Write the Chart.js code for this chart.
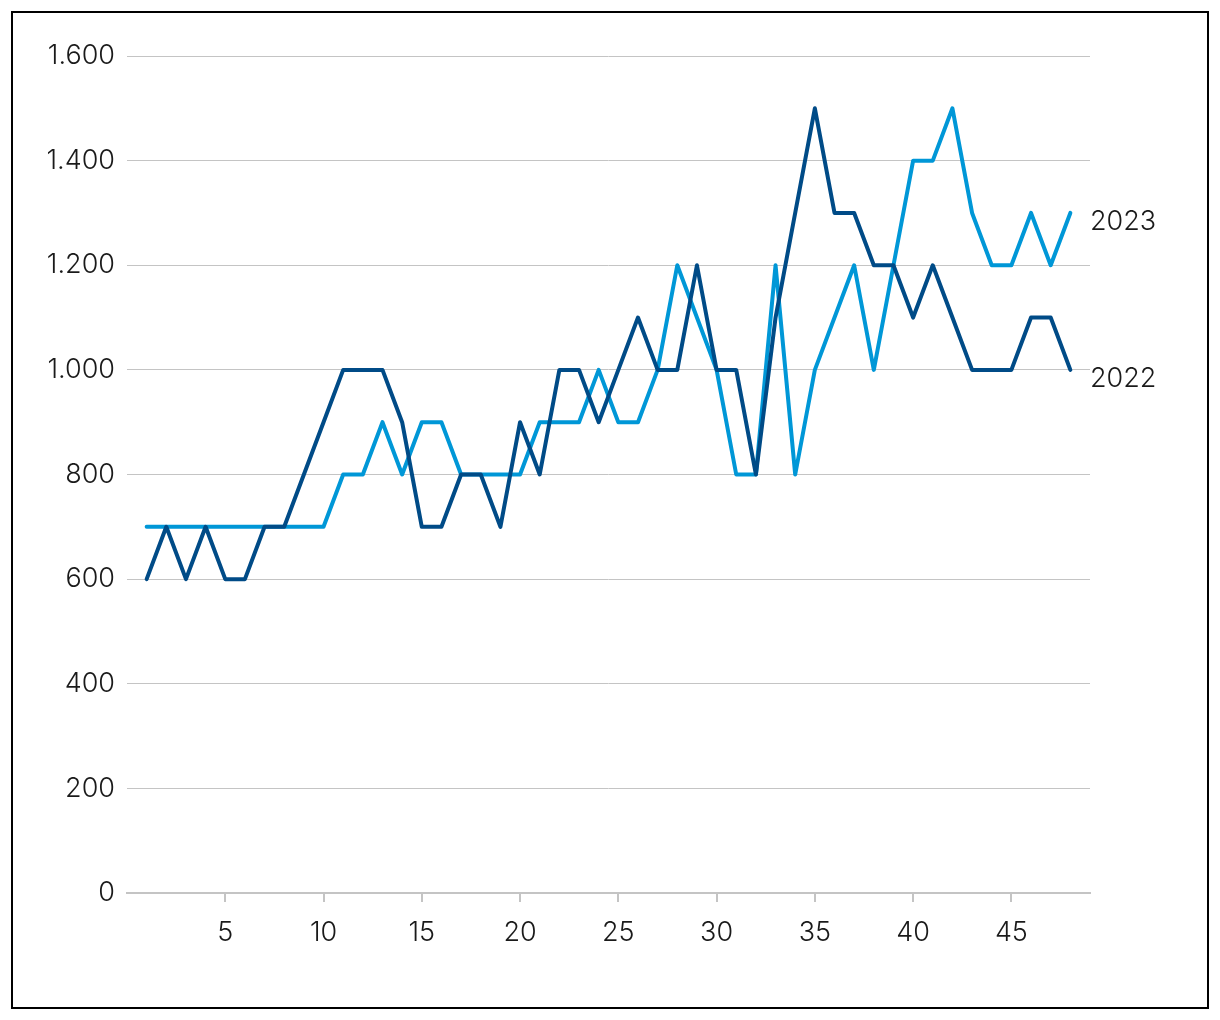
<!DOCTYPE html>
<html>
<head>
<meta charset="utf-8">
<script src="https://cdn.jsdelivr.net/npm/chart.js@4.4.1/dist/chart.umd.min.js"></script>
<style>
    html, body { margin: 0; padding: 0; background: #fff; }
    #frame {
        position: absolute; left: 11px; top: 11px;
        width: 1198px; height: 998px;
        border: 2px solid #000; box-sizing: border-box;
    }
    #chart { display: block; }
</style>
</head>
<body>
<div id="frame"><canvas id="chart" width="1194" height="994"></canvas></div>
<script>
// week numbers
const weeks = Array.from({ length: 48 }, (_, i) => i + 1);

const values2022 = [
    600, 700, 600, 700, 600, 600, 700, 700, 800, 900,
    1000, 1000, 1000, 900, 700, 700, 800, 800, 700, 900,
    800, 1000, 1000, 900, 1000, 1100, 1000, 1000, 1200, 1000,
    1000, 800, 1100, 1300, 1500, 1300, 1300, 1200, 1200, 1100,
    1200, 1100, 1000, 1000, 1000, 1100, 1100, 1000
];

const values2023 = [
    700, 700, 700, 700, 700, 700, 700, 700, 700, 700,
    800, 800, 900, 800, 900, 900, 800, 800, 800, 800,
    900, 900, 900, 1000, 900, 900, 1000, 1200, 1100, 1000,
    800, 800, 1200, 800, 1000, 1100, 1200, 1000, 1200, 1400,
    1400, 1500, 1300, 1200, 1200, 1300, 1200, 1300
];

const seriesNames = ['2022', '2023'];
const xTicks = [5, 10, 15, 20, 25, 30, 35, 40, 45];
const yTicks = [0, 200, 400, 600, 800, 1000, 1200, 1400, 1600];

const FONT = 'Inter, "Open Sans", sans-serif';
const TEXT = '#1a1a1a';
const GRID = '#c4c4c4';

const toPoints = (vals) => vals.map((v, i) => ({ x: weeks[i], y: v }));

// label at the end of each line
const endLabels = {
    id: 'endLabels',
    afterDatasetsDraw(chart) {
        const ctx = chart.ctx;
        ctx.save();
        ctx.font = '300 27px ' + FONT;
        ctx.fillStyle = TEXT;
        ctx.textAlign = 'left';
        ctx.textBaseline = 'middle';
        chart.data.datasets.forEach((ds, i) => {
            const meta = chart.getDatasetMeta(i);
            const last = meta.data[meta.data.length - 1];
            ctx.fillText(ds.label, chart.chartArea.right + 0, last.y + 9);
        });
        ctx.restore();
    }
};

const lineStyle = {
    borderWidth: 4,
    pointRadius: 0,
    tension: 0,
    borderJoinStyle: 'round',
    borderCapStyle: 'round'
};

new Chart(document.getElementById('chart'), {
    type: 'line',
    data: {
        datasets: [
            { label: seriesNames[0], data: toPoints(values2022), borderColor: '#004b87', ...lineStyle },
            { label: seriesNames[1], data: toPoints(values2023), borderColor: '#0097d7', ...lineStyle }
        ]
    },
    options: {
        responsive: false,
        animation: false,
        layout: { padding: { top: 43, right: 117, bottom: 0, left: 0 } },
        plugins: {
            legend: { display: false },
            tooltip: { enabled: false }
        },
        scales: {
            x: {
                type: 'linear',
                min: 0,
                max: 49,
                afterBuildTicks: (scale) => { scale.ticks = xTicks.map(v => ({ value: v })); },
                afterFit: (scale) => { scale.height = 114; },
                grid: {
                    drawOnChartArea: false,
                    drawTicks: true,
                    tickLength: 9,
                    color: GRID,
                    lineWidth: 2
                },
                border: { display: true, color: GRID, width: 2 },
                ticks: {
                    color: TEXT,
                    padding: 15,
                    maxRotation: 0,
                    font: { family: FONT, size: 27, weight: 300 }
                }
            },
            y: {
                min: 0,
                max: 1600,
                afterBuildTicks: (scale) => { scale.ticks = yTicks.map(v => ({ value: v })); },
                afterFit: (scale) => { scale.width = 114; },
                grid: {
                    drawTicks: false,
                    color: GRID,
                    lineWidth: 1
                },
                border: { display: false },
                ticks: {
                    color: TEXT,
                    padding: 12,
                    font: { family: FONT, size: 27, weight: 300 },
                    callback: (v) => v >= 1000 ? Math.floor(v / 1000) + '.' + String(v % 1000).padStart(3, '0') : String(v)
                }
            }
        }
    },
    plugins: [endLabels]
});
</script>
</body>
</html>
